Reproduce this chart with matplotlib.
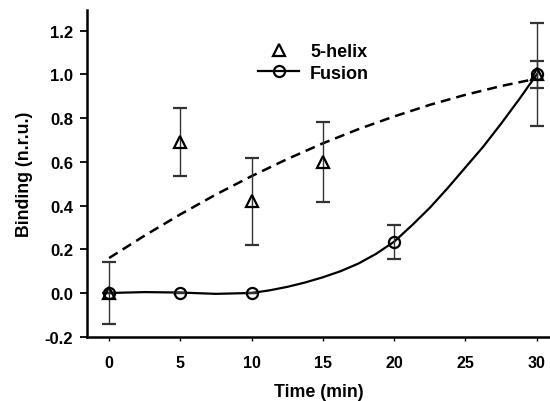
import matplotlib
matplotlib.use("Agg")
import matplotlib.pyplot as plt
from matplotlib.lines import Line2D

plt.rcParams['font.family'] = ['Liberation Sans', 'DejaVu Sans']
plt.rcParams['font.weight'] = 'bold'
plt.rcParams['axes.unicode_minus'] = False

# measured points
helix_t = [0, 5, 10, 15, 30]
helix_y = [0.0, 0.69, 0.42, 0.60, 1.0]
helix_err = [0.14, 0.155, 0.20, 0.183, 0.235]

fusion_t = [0, 5, 10, 20, 30]
fusion_y = [0.0, 0.0, 0.0, 0.235, 1.0]
fusion_err = [0.0, 0.0, 0.0, 0.078, 0.06]

# fitted curves
helix_fit_t = [0, 2.5, 5, 7.5, 10, 12.5, 15, 17.5, 20, 22.5, 25, 27.5, 30]
helix_fit = [0.16, 0.263, 0.36, 0.451, 0.535, 0.613, 0.685, 0.750, 0.808, 0.861, 0.907, 0.947, 0.981]

fusion_fit_t = [0, 2.5, 5, 7.5, 10, 11.25, 12.5, 13.75, 15, 16.25, 17.5, 18.75, 20,
                21.25, 22.5, 23.75, 25, 26.25, 27.5, 28.75, 30]
fusion_fit = [0.0, 0.004, 0.002, -0.004, 0.0, 0.012, 0.028, 0.048, 0.072, 0.10, 0.135, 0.18, 0.235,
              0.31, 0.39, 0.48, 0.575, 0.67, 0.775, 0.885, 1.0]

fig = plt.figure(figsize=(5.5, 4.02), dpi=100)
ax = fig.add_axes([0.158, 0.160, 0.842, 0.8126])

ax.plot(helix_fit_t, helix_fit, color='black', lw=1.8, ls=(0, (4, 2.4)))
ax.plot(fusion_fit_t, fusion_fit, color='black', lw=1.6)

ax.errorbar(fusion_t, fusion_y, yerr=fusion_err, fmt='o', ms=8, mfc='none', mec='black', mew=1.6,
            ecolor='#333333', elinewidth=1, capsize=5, capthick=1)
ax.errorbar(helix_t, helix_y, yerr=helix_err, fmt='^', ms=8, mfc='none', mec='black', mew=1.6,
            ecolor='#333333', elinewidth=1, capsize=5, capthick=1)

handles = [
    Line2D([], [], ls='none', marker='^', ms=8, mfc='none', mec='black', mew=1.6),
    Line2D([], [], color='black', lw=1.6, marker='o', ms=8, mfc='none', mec='black', mew=1.6),
]
ax.legend(handles, ['5-helix', 'Fusion'], loc='center', bbox_to_anchor=(0.49, 0.84), frameon=False,
          fontsize=13, handlelength=2.27, handletextpad=0.6, labelspacing=0.25)

ax.set_xlim(-1.56, 30.93)
ax.set_ylim(-0.2, 1.295)
ax.set_xticks([0, 5, 10, 15, 20, 25, 30])
ax.set_yticks([-0.2, 0.0, 0.2, 0.4, 0.6, 0.8, 1.0, 1.2])
ax.set_yticklabels(['%.1f' % v for v in ax.get_yticks()])

ax.spines['top'].set_visible(False)
ax.spines['right'].set_visible(False)
ax.spines['left'].set_linewidth(1.8)
ax.spines['bottom'].set_linewidth(1.8)
ax.tick_params(axis='x', direction='out', length=3, width=1, pad=10, labelsize=11.5)
ax.tick_params(axis='y', direction='out', length=5, width=1.3, pad=5, labelsize=12)

ax.set_xlabel('Time (min)', fontsize=12.8, fontweight='bold', labelpad=9.5)
ax.set_ylabel('Binding (n.r.u.)', fontsize=12.8, fontweight='bold', labelpad=8)

fig.savefig('out.png', dpi=100)
